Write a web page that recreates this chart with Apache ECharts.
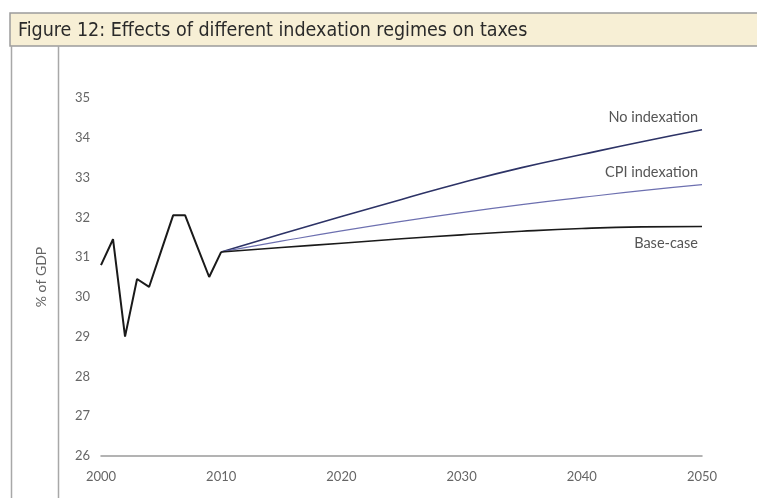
<!DOCTYPE html>
<html><head><meta charset="utf-8">
<script src="https://cdn.jsdelivr.net/npm/echarts@6/dist/echarts.min.js"></script>
<style>html,body{margin:0;padding:0;background:#fff}#c{width:757px;height:498px}</style>
</head><body><div id="c"></div>
<script>
var histYears = [2000,2001,2002,2003,2004,2005,2006,2007,2008,2009,2010];
var histValues = [30.8,31.45,29.0,30.45,30.25,31.15,32.05,32.05,31.27,30.5,31.13];
var projYears = [2010,2015,2020,2025,2030,2035,2040,2045,2050];
var noIndexation = [31.13,31.58,32.02,32.45,32.87,33.25,33.58,33.9,34.2];
var cpiIndexation = [31.13,31.40,31.66,31.90,32.12,32.32,32.5,32.67,32.82];
var baseCase = [31.13,31.24,31.35,31.46,31.56,31.65,31.72,31.76,31.77];
var seriesNames = ['No indexation','CPI indexation','Base-case'];
var xTicks = [2000,2010,2020,2030,2040,2050];
var yTicks = [26,27,28,29,30,31,32,33,34,35];
var titleText = 'Figure 12: Effects of different indexation regimes on taxes';
var yName = '% of GDP';

function pairs(xs, ys) {
  return xs.map(function (x, i) { return [x, ys[i]]; });
}
var font = 'Lato, "Open Sans", sans-serif';
function endLbl(up) {
  return {show: true, formatter: '{a}', align: 'right', verticalAlign: up ? 'bottom' : 'top',
    offset: [-4, up ? -5 : 9], distance: 0, color: '#555', fontSize: 14.5, fontFamily: font};
}
var chart = echarts.init(document.getElementById('c'), null, {renderer: 'canvas'});
chart.setOption({
  animation: false,
  backgroundColor: '#fff',
  grid: {left: 101, right: 55, top: 98, bottom: 42},
  xAxis: {
    type: 'value', min: xTicks[0], max: xTicks[xTicks.length - 1], interval: 10,
    axisLine: {show: true, onZero: false, lineStyle: {color: '#9a9a9a', width: 1.5}},
    axisTick: {show: false}, splitLine: {show: false},
    axisLabel: {color: '#666', fontSize: 13, fontFamily: font, margin: 14,
      formatter: function (v) { return xTicks.indexOf(v) >= 0 ? String(v) : ''; }}
  },
  yAxis: {
    type: 'value', min: yTicks[0], max: yTicks[yTicks.length - 1], interval: 1,
    axisLine: {show: false}, axisTick: {show: false}, splitLine: {show: false},
    axisLabel: {color: '#666', fontSize: 13, fontFamily: font, margin: 11, align: 'right'},
    name: yName, nameLocation: 'middle', nameGap: 53, nameRotate: 90,
    nameTextStyle: {color: '#666', fontSize: 14, fontFamily: font}
  },
  series: [
    {type: 'line', data: pairs(histYears, histValues), symbol: 'none',
      lineStyle: {color: '#1a1a1a', width: 2}, z: 5},
    {type: 'line', name: seriesNames[0], data: pairs(projYears, noIndexation),
      symbol: 'none', smooth: true, lineStyle: {color: '#2d3366', width: 1.6}, endLabel: endLbl(true)},
    {type: 'line', name: seriesNames[1], data: pairs(projYears, cpiIndexation),
      symbol: 'none', smooth: true, lineStyle: {color: '#6d70b0', width: 1.2}, endLabel: endLbl(true)},
    {type: 'line', name: seriesNames[2], data: pairs(projYears, baseCase),
      symbol: 'none', smooth: true, lineStyle: {color: '#1a1a1a', width: 1.6}, endLabel: endLbl(false)}
  ],
  graphic: [
    {type: 'rect', shape: {x: 10, y: 13, width: 760, height: 33}, z: 0,
      style: {fill: '#f7efd5', stroke: '#9c9c9c', lineWidth: 1.5}},
    {type: 'text', x: 18, y: 30.5, z: 1,
      style: {text: titleText, fill: '#2a2a2a', fontSize: 19.5,
        fontFamily: '"Liberation Sans Narrow", "DejaVu Sans Condensed", sans-serif', verticalAlign: 'middle'}},
    {type: 'line', shape: {x1: 11.5, y1: 46, x2: 11.5, y2: 498}, style: {stroke: '#a8a8a8', lineWidth: 1.5}},
    {type: 'line', shape: {x1: 58.5, y1: 46, x2: 58.5, y2: 498}, style: {stroke: '#a8a8a8', lineWidth: 1.5}}
  ]
});
</script></body></html>
